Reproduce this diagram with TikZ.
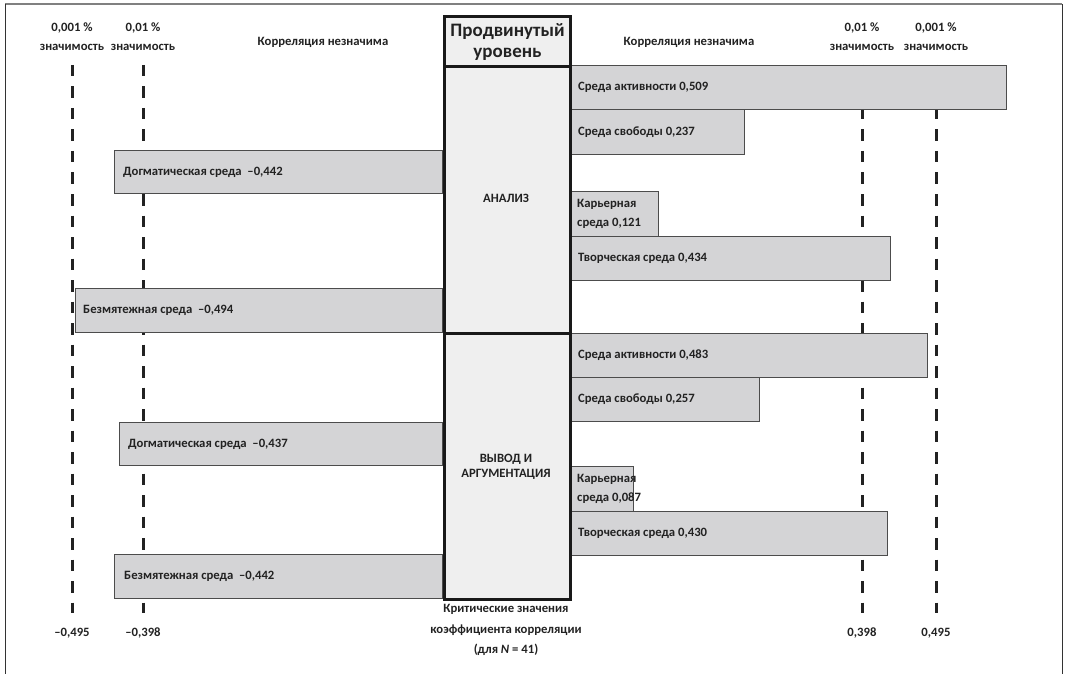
\documentclass[tikz,border=0pt]{standalone}
\usepackage{fontspec}
\setmainfont{Carlito}
\definecolor{barfill}{HTML}{D4D4D6}
\definecolor{corefill}{HTML}{EFEFEF}
\definecolor{ink}{HTML}{222222}
\begin{document}
\begin{tikzpicture}[x=1pt,y=-1pt,
  txt/.style={font=\bfseries\fontsize{12.7}{19}\selectfont, text=ink, inner sep=0pt},
  bigtxt/.style={font=\bfseries\fontsize{19}{21}\selectfont, text=ink, inner sep=0pt, align=center},
  bar/.style={draw=black!70, line width=1pt, fill=barfill, inner sep=0pt},
  crit/.style={line width=3pt, draw=ink, dash pattern=on 11.5pt off 10pt},
  core/.style={draw=black!90, line width=3pt, fill=corefill, inner sep=0pt}]
\useasboundingbox (0,0) rectangle (1066,674);
% frame
\draw[black!50, line width=2pt] (5,4) -- (1062,4);
\draw[black!80, line width=1pt] (5,4) -- (5,674);
\draw[black!80, line width=1pt] (1062,4) -- (1062,674);
% critical value lines
\coordinate (c1t) at (72,65);   \coordinate (c1b) at (72,613);
\coordinate (c2t) at (143,65);  \coordinate (c2b) at (143,613);
\coordinate (c3t) at (862,65);  \coordinate (c3b) at (862,613);
\coordinate (c4t) at (936,65);  \coordinate (c4b) at (936,613);
\draw[crit] (c1t) -- (c1b);
\draw[crit] (c2t) -- (c2b);
\draw[crit] (c3t) -- (c3b);
\draw[crit] (c4t) -- (c4b);
% top labels
\node[txt, align=center] (s1) at (72,37) {0,001 \%\\значимость};
\node[txt, align=center] (s2) at (143,37) {0,01 \%\\значимость};
\node[txt, align=center] (s3) at (862,37) {0,01 \%\\значимость};
\node[txt, align=center] (s4) at (936,37) {0,001 \%\\значимость};
\node[txt] (nl) at (323,42) {Корреляция незначима};
\node[txt] (nr) at (689,42) {Корреляция незначима};
% bottom labels
\node[txt] (v1) at (72,633) {–0,495};
\node[txt] (v2) at (143,633) {–0,398};
\node[txt] (v3) at (862,633) {0,398};
\node[txt] (v4) at (936,633) {0,495};
\node[txt, align=center, font=\bfseries\fontsize{12.7}{20.5}\selectfont] (crt) at (506,630) {Критические значения\\коэффициента корреляции\\(для \textit{N} = 41)};
% right bars
\node[bar, anchor=north west, minimum width=437pt, minimum height=44pt] (ra1) at (569,65) {};
\node[bar, anchor=north west, minimum width=175pt, minimum height=45pt] (rf1) at (569,109) {};
\node[bar, anchor=north west, minimum width=89pt, minimum height=45pt] (rk1) at (569,191) {};
\node[bar, anchor=north west, minimum width=321pt, minimum height=44pt] (rt1) at (569,236) {};
\node[bar, anchor=north west, minimum width=358pt, minimum height=44pt] (ra2) at (569,333) {};
\node[bar, anchor=north west, minimum width=190pt, minimum height=44pt] (rf2) at (569,377) {};
\node[bar, anchor=north west, minimum width=64pt, minimum height=45pt] (rk2) at (569,466) {};
\node[bar, anchor=north west, minimum width=318pt, minimum height=44pt] (rt2) at (569,511) {};
% left bars
\node[bar, anchor=north east, minimum width=328pt, minimum height=43pt] (ld1) at (443,150) {};
\node[bar, anchor=north east, minimum width=367pt, minimum height=44pt] (lb1) at (443,288) {};
\node[bar, anchor=north east, minimum width=323pt, minimum height=43pt] (ld2) at (443,422) {};
\node[bar, anchor=north east, minimum width=328pt, minimum height=44pt] (lb2) at (443,554) {};
% core column
\node[core, anchor=north west, minimum width=126pt, minimum height=50pt] (hd) at (443,15) {};
\node[bigtxt] (hdt) at ([yshift=-1pt]hd.center) {Продвинутый\\уровень};
\node[core, anchor=north west, minimum width=126pt, minimum height=267pt] (an) at (443,65) {};
\node[core, anchor=north west, minimum width=126pt, minimum height=266pt] (vy) at (443,332) {};
\node[txt] (ant) at (506,198) {АНАЛИЗ};
\node[txt, align=center, font=\bfseries\fontsize{12.7}{15.5}\selectfont] (vyt) at (506,467) {ВЫВОД И\\АРГУМЕНТАЦИЯ};
% bar labels
\node[txt, anchor=west] (ra1t) at ([xshift=9pt]ra1.west) {Среда активности 0,509};
\node[txt, anchor=west] (rf1t) at ([xshift=9pt]rf1.west) {Среда свободы 0,237};
\node[txt, anchor=west, align=left] (rk1t) at ([xshift=8pt]rk1.west) {Карьерная\\среда 0,121};
\node[txt, anchor=west] (rt1t) at ([xshift=9pt]rt1.west) {Творческая среда 0,434};
\node[txt, anchor=west] (ra2t) at ([xshift=9pt]ra2.west) {Среда активности 0,483};
\node[txt, anchor=west] (rf2t) at ([xshift=9pt]rf2.west) {Среда свободы 0,257};
\node[txt, anchor=west, align=left] (rk2t) at ([xshift=8pt]rk2.west) {Карьерная\\среда 0,087};
\node[txt, anchor=west] (rt2t) at ([xshift=9pt]rt2.west) {Творческая среда 0,430};
\node[txt, anchor=west] (ld1t) at ([xshift=9pt]ld1.west) {Догматическая среда~~–0,442};
\node[txt, anchor=west] (lb1t) at ([xshift=8pt]lb1.west) {Безмятежная среда~~–0,494};
\node[txt, anchor=west] (ld2t) at ([xshift=9pt]ld2.west) {Догматическая среда~~–0,437};
\node[txt, anchor=west] (lb2t) at ([xshift=10pt]lb2.west) {Безмятежная среда~~–0,442};
\end{tikzpicture}
\end{document}
